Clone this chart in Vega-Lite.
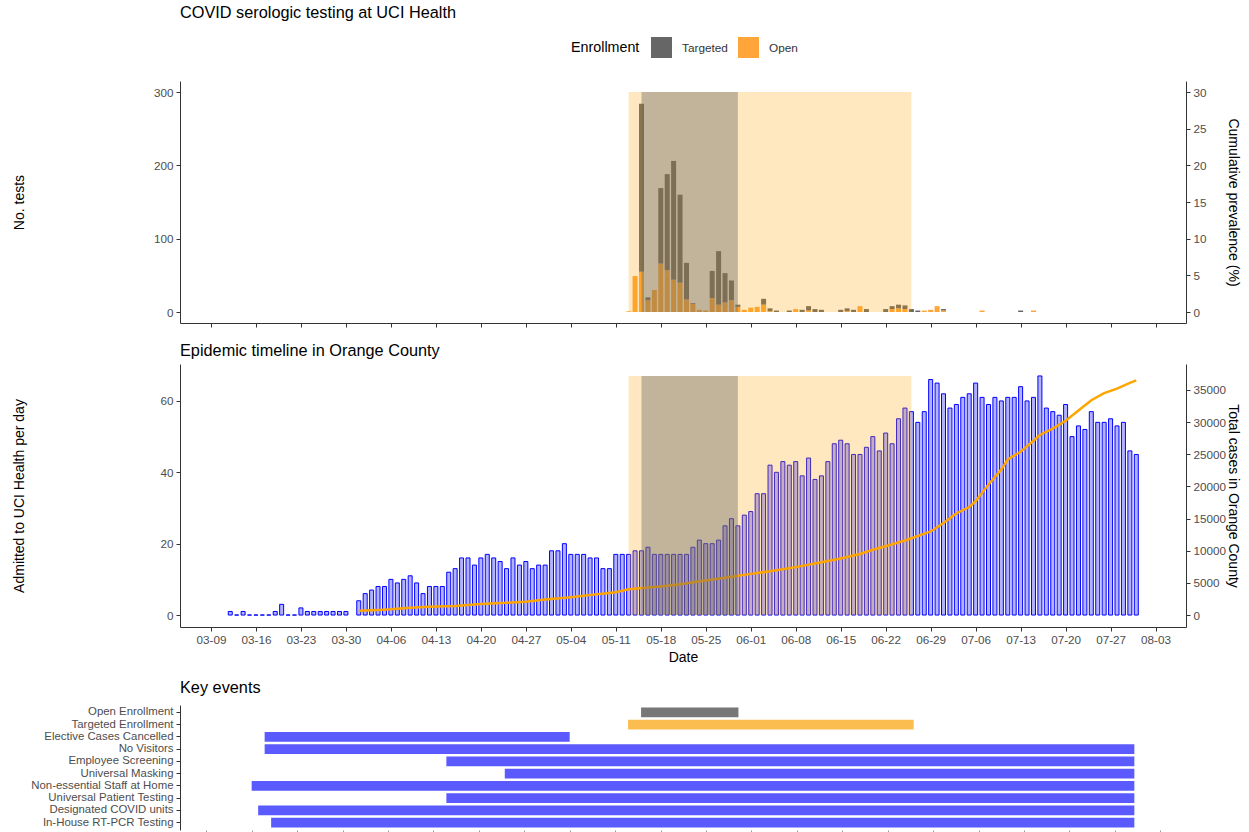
{
  "$schema": "https://vega.github.io/schema/vega-lite/v6.json",
  "background": "#FFFFFF",
  "padding": {"left": 12, "top": 4, "right": 5, "bottom": 0},
  "spacing": 14,
  "datasets": {
    "tests": [
      {"date": "2020/05/13", "enrollment": "Open", "n": 1},
      {"date": "2020/05/14", "enrollment": "Open", "n": 49},
      {"date": "2020/05/15", "enrollment": "Open", "n": 55},
      {"date": "2020/05/15", "enrollment": "Targeted", "n": 229},
      {"date": "2020/05/16", "enrollment": "Open", "n": 16},
      {"date": "2020/05/16", "enrollment": "Targeted", "n": 4},
      {"date": "2020/05/17", "enrollment": "Open", "n": 30},
      {"date": "2020/05/18", "enrollment": "Open", "n": 66},
      {"date": "2020/05/18", "enrollment": "Targeted", "n": 103},
      {"date": "2020/05/19", "enrollment": "Open", "n": 57},
      {"date": "2020/05/19", "enrollment": "Targeted", "n": 131},
      {"date": "2020/05/20", "enrollment": "Open", "n": 44},
      {"date": "2020/05/20", "enrollment": "Targeted", "n": 162},
      {"date": "2020/05/21", "enrollment": "Open", "n": 40},
      {"date": "2020/05/21", "enrollment": "Targeted", "n": 120},
      {"date": "2020/05/22", "enrollment": "Open", "n": 17},
      {"date": "2020/05/22", "enrollment": "Targeted", "n": 50},
      {"date": "2020/05/23", "enrollment": "Open", "n": 11},
      {"date": "2020/05/23", "enrollment": "Targeted", "n": 1},
      {"date": "2020/05/24", "enrollment": "Open", "n": 3},
      {"date": "2020/05/25", "enrollment": "Open", "n": 2},
      {"date": "2020/05/26", "enrollment": "Open", "n": 19},
      {"date": "2020/05/26", "enrollment": "Targeted", "n": 37},
      {"date": "2020/05/27", "enrollment": "Open", "n": 10},
      {"date": "2020/05/27", "enrollment": "Targeted", "n": 73},
      {"date": "2020/05/28", "enrollment": "Open", "n": 13},
      {"date": "2020/05/28", "enrollment": "Targeted", "n": 40},
      {"date": "2020/05/29", "enrollment": "Open", "n": 16},
      {"date": "2020/05/29", "enrollment": "Targeted", "n": 27},
      {"date": "2020/05/30", "enrollment": "Open", "n": 7},
      {"date": "2020/05/30", "enrollment": "Targeted", "n": 3},
      {"date": "2020/05/31", "enrollment": "Open", "n": 3},
      {"date": "2020/06/01", "enrollment": "Open", "n": 6},
      {"date": "2020/06/02", "enrollment": "Open", "n": 7},
      {"date": "2020/06/03", "enrollment": "Open", "n": 10},
      {"date": "2020/06/03", "enrollment": "Targeted", "n": 8},
      {"date": "2020/06/04", "enrollment": "Open", "n": 1},
      {"date": "2020/06/04", "enrollment": "Targeted", "n": 4},
      {"date": "2020/06/05", "enrollment": "Targeted", "n": 2},
      {"date": "2020/06/07", "enrollment": "Targeted", "n": 2},
      {"date": "2020/06/08", "enrollment": "Open", "n": 4},
      {"date": "2020/06/09", "enrollment": "Targeted", "n": 3},
      {"date": "2020/06/10", "enrollment": "Open", "n": 2},
      {"date": "2020/06/10", "enrollment": "Targeted", "n": 6},
      {"date": "2020/06/11", "enrollment": "Targeted", "n": 4},
      {"date": "2020/06/12", "enrollment": "Targeted", "n": 3},
      {"date": "2020/06/15", "enrollment": "Targeted", "n": 3},
      {"date": "2020/06/16", "enrollment": "Open", "n": 1},
      {"date": "2020/06/16", "enrollment": "Targeted", "n": 4},
      {"date": "2020/06/17", "enrollment": "Targeted", "n": 3},
      {"date": "2020/06/18", "enrollment": "Open", "n": 8},
      {"date": "2020/06/19", "enrollment": "Targeted", "n": 4},
      {"date": "2020/06/22", "enrollment": "Targeted", "n": 4},
      {"date": "2020/06/23", "enrollment": "Open", "n": 4},
      {"date": "2020/06/23", "enrollment": "Targeted", "n": 4},
      {"date": "2020/06/24", "enrollment": "Open", "n": 5},
      {"date": "2020/06/24", "enrollment": "Targeted", "n": 5},
      {"date": "2020/06/25", "enrollment": "Open", "n": 4},
      {"date": "2020/06/25", "enrollment": "Targeted", "n": 5},
      {"date": "2020/06/26", "enrollment": "Targeted", "n": 4},
      {"date": "2020/06/27", "enrollment": "Targeted", "n": 2},
      {"date": "2020/06/28", "enrollment": "Open", "n": 2},
      {"date": "2020/06/29", "enrollment": "Open", "n": 3},
      {"date": "2020/06/30", "enrollment": "Open", "n": 8},
      {"date": "2020/07/01", "enrollment": "Open", "n": 2},
      {"date": "2020/07/01", "enrollment": "Targeted", "n": 2},
      {"date": "2020/07/07", "enrollment": "Open", "n": 2},
      {"date": "2020/07/13", "enrollment": "Targeted", "n": 2},
      {"date": "2020/07/15", "enrollment": "Open", "n": 2}
    ],
    "admits": [
      {"date": "2020/03/12", "n": 1}, {"date": "2020/03/13", "n": 0},
      {"date": "2020/03/14", "n": 1}, {"date": "2020/03/15", "n": 0},
      {"date": "2020/03/16", "n": 0}, {"date": "2020/03/17", "n": 0},
      {"date": "2020/03/18", "n": 0}, {"date": "2020/03/19", "n": 1},
      {"date": "2020/03/20", "n": 3}, {"date": "2020/03/21", "n": 0},
      {"date": "2020/03/22", "n": 0}, {"date": "2020/03/23", "n": 2},
      {"date": "2020/03/24", "n": 1}, {"date": "2020/03/25", "n": 1},
      {"date": "2020/03/26", "n": 1}, {"date": "2020/03/27", "n": 1},
      {"date": "2020/03/28", "n": 1}, {"date": "2020/03/29", "n": 1},
      {"date": "2020/03/30", "n": 1},
      {"date": "2020/04/01", "n": 4}, {"date": "2020/04/02", "n": 6},
      {"date": "2020/04/03", "n": 7}, {"date": "2020/04/04", "n": 8},
      {"date": "2020/04/05", "n": 8}, {"date": "2020/04/06", "n": 10},
      {"date": "2020/04/07", "n": 9}, {"date": "2020/04/08", "n": 10},
      {"date": "2020/04/09", "n": 11}, {"date": "2020/04/10", "n": 9},
      {"date": "2020/04/11", "n": 6}, {"date": "2020/04/12", "n": 8},
      {"date": "2020/04/13", "n": 8}, {"date": "2020/04/14", "n": 8},
      {"date": "2020/04/15", "n": 12}, {"date": "2020/04/16", "n": 13},
      {"date": "2020/04/17", "n": 16}, {"date": "2020/04/18", "n": 16},
      {"date": "2020/04/19", "n": 14}, {"date": "2020/04/20", "n": 16},
      {"date": "2020/04/21", "n": 17}, {"date": "2020/04/22", "n": 16},
      {"date": "2020/04/23", "n": 15}, {"date": "2020/04/24", "n": 13},
      {"date": "2020/04/25", "n": 16}, {"date": "2020/04/26", "n": 14},
      {"date": "2020/04/27", "n": 15}, {"date": "2020/04/28", "n": 13},
      {"date": "2020/04/29", "n": 14}, {"date": "2020/04/30", "n": 14},
      {"date": "2020/05/01", "n": 18}, {"date": "2020/05/02", "n": 18},
      {"date": "2020/05/03", "n": 20}, {"date": "2020/05/04", "n": 17},
      {"date": "2020/05/05", "n": 17}, {"date": "2020/05/06", "n": 17},
      {"date": "2020/05/07", "n": 16}, {"date": "2020/05/08", "n": 16},
      {"date": "2020/05/09", "n": 13}, {"date": "2020/05/10", "n": 13},
      {"date": "2020/05/11", "n": 17}, {"date": "2020/05/12", "n": 17},
      {"date": "2020/05/13", "n": 17}, {"date": "2020/05/14", "n": 18},
      {"date": "2020/05/15", "n": 18}, {"date": "2020/05/16", "n": 19},
      {"date": "2020/05/17", "n": 17}, {"date": "2020/05/18", "n": 17},
      {"date": "2020/05/19", "n": 17}, {"date": "2020/05/20", "n": 17},
      {"date": "2020/05/21", "n": 17}, {"date": "2020/05/22", "n": 17},
      {"date": "2020/05/23", "n": 19}, {"date": "2020/05/24", "n": 21},
      {"date": "2020/05/25", "n": 20}, {"date": "2020/05/26", "n": 20},
      {"date": "2020/05/27", "n": 21}, {"date": "2020/05/28", "n": 25},
      {"date": "2020/05/29", "n": 27}, {"date": "2020/05/30", "n": 25},
      {"date": "2020/05/31", "n": 28}, {"date": "2020/06/01", "n": 29},
      {"date": "2020/06/02", "n": 34}, {"date": "2020/06/03", "n": 34},
      {"date": "2020/06/04", "n": 42}, {"date": "2020/06/05", "n": 40},
      {"date": "2020/06/06", "n": 43}, {"date": "2020/06/07", "n": 42},
      {"date": "2020/06/08", "n": 43}, {"date": "2020/06/09", "n": 39},
      {"date": "2020/06/10", "n": 44}, {"date": "2020/06/11", "n": 38},
      {"date": "2020/06/12", "n": 39}, {"date": "2020/06/13", "n": 43},
      {"date": "2020/06/14", "n": 48}, {"date": "2020/06/15", "n": 49},
      {"date": "2020/06/16", "n": 48}, {"date": "2020/06/17", "n": 45},
      {"date": "2020/06/18", "n": 45}, {"date": "2020/06/19", "n": 47},
      {"date": "2020/06/20", "n": 50}, {"date": "2020/06/21", "n": 46},
      {"date": "2020/06/22", "n": 51}, {"date": "2020/06/23", "n": 48},
      {"date": "2020/06/24", "n": 55}, {"date": "2020/06/25", "n": 58},
      {"date": "2020/06/26", "n": 57}, {"date": "2020/06/27", "n": 54},
      {"date": "2020/06/28", "n": 57}, {"date": "2020/06/29", "n": 66},
      {"date": "2020/06/30", "n": 65}, {"date": "2020/07/01", "n": 62},
      {"date": "2020/07/02", "n": 58}, {"date": "2020/07/03", "n": 59},
      {"date": "2020/07/04", "n": 61}, {"date": "2020/07/05", "n": 62},
      {"date": "2020/07/06", "n": 65}, {"date": "2020/07/07", "n": 61},
      {"date": "2020/07/08", "n": 59}, {"date": "2020/07/09", "n": 61},
      {"date": "2020/07/10", "n": 60}, {"date": "2020/07/11", "n": 61},
      {"date": "2020/07/12", "n": 61}, {"date": "2020/07/13", "n": 64},
      {"date": "2020/07/14", "n": 60}, {"date": "2020/07/15", "n": 61},
      {"date": "2020/07/16", "n": 67}, {"date": "2020/07/17", "n": 58},
      {"date": "2020/07/18", "n": 57}, {"date": "2020/07/19", "n": 56},
      {"date": "2020/07/20", "n": 59}, {"date": "2020/07/21", "n": 50},
      {"date": "2020/07/22", "n": 53}, {"date": "2020/07/23", "n": 52},
      {"date": "2020/07/24", "n": 57}, {"date": "2020/07/25", "n": 54},
      {"date": "2020/07/26", "n": 54}, {"date": "2020/07/27", "n": 55},
      {"date": "2020/07/28", "n": 53}, {"date": "2020/07/29", "n": 54},
      {"date": "2020/07/30", "n": 46}, {"date": "2020/07/31", "n": 45}
    ],
    "cases": [
      {"date": "2020/04/01", "total": 650}, {"date": "2020/04/04", "total": 800},
      {"date": "2020/04/06", "total": 890}, {"date": "2020/04/09", "total": 1140},
      {"date": "2020/04/12", "total": 1270}, {"date": "2020/04/16", "total": 1400},
      {"date": "2020/04/20", "total": 1700}, {"date": "2020/04/24", "total": 1900},
      {"date": "2020/04/27", "total": 2080}, {"date": "2020/04/30", "total": 2400},
      {"date": "2020/05/04", "total": 2770}, {"date": "2020/05/07", "total": 3100},
      {"date": "2020/05/11", "total": 3550}, {"date": "2020/05/13", "total": 4000},
      {"date": "2020/05/16", "total": 4300}, {"date": "2020/05/18", "total": 4430},
      {"date": "2020/05/21", "total": 4800}, {"date": "2020/05/25", "total": 5360},
      {"date": "2020/05/28", "total": 5800}, {"date": "2020/06/01", "total": 6400},
      {"date": "2020/06/04", "total": 6800}, {"date": "2020/06/08", "total": 7450},
      {"date": "2020/06/11", "total": 8000}, {"date": "2020/06/15", "total": 8800},
      {"date": "2020/06/18", "total": 9500}, {"date": "2020/06/20", "total": 10150},
      {"date": "2020/06/22", "total": 10700}, {"date": "2020/06/25", "total": 11600},
      {"date": "2020/06/27", "total": 12300}, {"date": "2020/06/29", "total": 13000},
      {"date": "2020/07/01", "total": 14300}, {"date": "2020/07/03", "total": 15800},
      {"date": "2020/07/05", "total": 16800}, {"date": "2020/07/06", "total": 17700},
      {"date": "2020/07/08", "total": 20300}, {"date": "2020/07/10", "total": 22650},
      {"date": "2020/07/11", "total": 24200}, {"date": "2020/07/13", "total": 25400},
      {"date": "2020/07/15", "total": 27100}, {"date": "2020/07/16", "total": 28000},
      {"date": "2020/07/18", "total": 29000}, {"date": "2020/07/20", "total": 30200},
      {"date": "2020/07/22", "total": 31800}, {"date": "2020/07/24", "total": 33400},
      {"date": "2020/07/26", "total": 34500}, {"date": "2020/07/28", "total": 35200},
      {"date": "2020/07/30", "total": 36100}, {"date": "2020/07/31", "total": 36500}
    ],
    "events": [
      {"event": "Targeted Enrollment", "kind": "targeted", "start": "2020/05/13", "end": "2020/06/26"},
      {"event": "Open Enrollment", "kind": "open", "start": "2020/05/15", "end": "2020/05/30"},
      {"event": "Elective Cases Cancelled", "kind": "policy", "start": "2020/03/18", "end": "2020/05/04"},
      {"event": "No Visitors", "kind": "policy", "start": "2020/03/18", "end": "2020/07/30"},
      {"event": "Employee Screening", "kind": "policy", "start": "2020/04/15", "end": "2020/07/30"},
      {"event": "Universal Masking", "kind": "policy", "start": "2020/04/24", "end": "2020/07/30"},
      {"event": "Non-essential Staff at Home", "kind": "policy", "start": "2020/03/16", "end": "2020/07/30"},
      {"event": "Universal Patient Testing", "kind": "policy", "start": "2020/04/15", "end": "2020/07/30"},
      {"event": "Designated COVID units", "kind": "policy", "start": "2020/03/17", "end": "2020/07/30"},
      {"event": "In-House RT-PCR Testing", "kind": "policy", "start": "2020/03/19", "end": "2020/07/30"}
    ]
  },
  "vconcat": [
    {
      "title": {"text": "COVID serologic testing at UCI Health", "offset": 16},
      "width": 1006,
      "height": 242,
      "layer": [
        {
          "data": {"name": "tests"},
          "mark": {"type": "bar", "size": 5},
          "encoding": {
            "x": {
              "field": "date", "type": "temporal",
              "scale": {"domain": [{"year": 2020, "month": 3, "date": 4, "hours": 23}, {"year": 2020, "month": 8, "date": 6, "hours": 23}]},
              "axis": {"title": null, "labels": false, "values": [
                {"year": 2020, "month": 3, "date": 9}, {"year": 2020, "month": 3, "date": 16}, {"year": 2020, "month": 3, "date": 23}, {"year": 2020, "month": 3, "date": 30},
                {"year": 2020, "month": 4, "date": 6}, {"year": 2020, "month": 4, "date": 13}, {"year": 2020, "month": 4, "date": 20}, {"year": 2020, "month": 4, "date": 27},
                {"year": 2020, "month": 5, "date": 4}, {"year": 2020, "month": 5, "date": 11}, {"year": 2020, "month": 5, "date": 18}, {"year": 2020, "month": 5, "date": 25},
                {"year": 2020, "month": 6, "date": 1}, {"year": 2020, "month": 6, "date": 8}, {"year": 2020, "month": 6, "date": 15}, {"year": 2020, "month": 6, "date": 22},
                {"year": 2020, "month": 6, "date": 29}, {"year": 2020, "month": 7, "date": 6}, {"year": 2020, "month": 7, "date": 13}, {"year": 2020, "month": 7, "date": 20},
                {"year": 2020, "month": 7, "date": 27}, {"year": 2020, "month": 8, "date": 3}]}
            },
            "y": {
              "field": "n", "type": "quantitative", "stack": "zero",
              "scale": {"domain": [-15, 315], "nice": false, "zero": false},
              "axis": {"orient": "left", "title": "No. tests", "values": [0, 100, 200, 300], "titleX": -161, "titleBaseline": "middle"}
            },
            "color": {
              "field": "enrollment", "type": "nominal",
              "scale": {"domain": ["Targeted", "Open"], "range": ["#666666", "#FFA53A"]},
              "legend": {
                "title": "Enrollment", "orient": "none", "direction": "horizontal",
                "legendX": 391, "legendY": -44, "titleOrient": "left",
                "titleBaseline": "middle", "titlePadding": 11,
                "symbolType": "square", "symbolSize": 441, "symbolStrokeWidth": 0,
                "symbolOpacity": 1, "labelOffset": 10, "columnPadding": 10
              }
            },
            "order": {"field": "enrollment", "sort": "ascending"}
          }
        },
        {
          "data": {"name": "events"},
          "transform": [{"filter": "datum.kind != 'policy'"}],
          "mark": {"type": "rect"},
          "encoding": {
            "x": {"field": "start", "type": "temporal"},
            "x2": {"field": "end"},
            "y": {
              "datum": 0, "type": "quantitative",
              "scale": {"domain": [-1.5, 31.5], "nice": false, "zero": false},
              "axis": {"orient": "right", "title": "Cumulative prevalence (%)", "values": [0, 5, 10, 15, 20, 25, 30], "titleX": 46, "titleBaseline": "middle"}
            },
            "y2": {"datum": 30},
            "fill": {"field": "kind", "type": "nominal", "scale": {"domain": ["targeted", "open"], "range": ["#FFA500", "#666666"]}, "legend": null},
            "opacity": {"field": "kind", "type": "nominal", "scale": {"domain": ["targeted", "open"], "range": [0.25, 0.4]}, "legend": null}
          }
        }
      ],
      "resolve": {"scale": {"y": "independent"}}
    },
    {
      "title": {"text": "Epidemic timeline in Orange County", "offset": 5},
      "width": 1006,
      "height": 263,
      "layer": [
        {
          "data": {"name": "admits"},
          "mark": {"type": "bar", "size": 4, "fill": "#0000FF", "fillOpacity": 0.3, "stroke": "#0000FF", "strokeWidth": 1},
          "encoding": {
            "x": {
              "field": "date", "type": "temporal",
              "scale": {"domain": [{"year": 2020, "month": 3, "date": 4, "hours": 23}, {"year": 2020, "month": 8, "date": 6, "hours": 23}]},
              "axis": {"title": "Date", "titlePadding": 5, "format": "%m-%d", "labelAngle": 0, "values": [
                {"year": 2020, "month": 3, "date": 9}, {"year": 2020, "month": 3, "date": 16}, {"year": 2020, "month": 3, "date": 23}, {"year": 2020, "month": 3, "date": 30},
                {"year": 2020, "month": 4, "date": 6}, {"year": 2020, "month": 4, "date": 13}, {"year": 2020, "month": 4, "date": 20}, {"year": 2020, "month": 4, "date": 27},
                {"year": 2020, "month": 5, "date": 4}, {"year": 2020, "month": 5, "date": 11}, {"year": 2020, "month": 5, "date": 18}, {"year": 2020, "month": 5, "date": 25},
                {"year": 2020, "month": 6, "date": 1}, {"year": 2020, "month": 6, "date": 8}, {"year": 2020, "month": 6, "date": 15}, {"year": 2020, "month": 6, "date": 22},
                {"year": 2020, "month": 6, "date": 29}, {"year": 2020, "month": 7, "date": 6}, {"year": 2020, "month": 7, "date": 13}, {"year": 2020, "month": 7, "date": 20},
                {"year": 2020, "month": 7, "date": 27}, {"year": 2020, "month": 8, "date": 3}]}
            },
            "y": {
              "field": "n", "type": "quantitative",
              "scale": {"domain": [-3.35, 70.35], "nice": false, "zero": false},
              "axis": {"orient": "left", "title": "Admitted to UCI Health per day", "values": [0, 20, 40, 60], "titleX": -161, "titleBaseline": "middle"}
            }
          }
        },
        {
          "data": {"name": "cases"},
          "mark": {"type": "line", "color": "#FFA500", "strokeWidth": 2.5},
          "encoding": {
            "x": {"field": "date", "type": "temporal"},
            "y": {
              "field": "total", "type": "quantitative",
              "scale": {"domain": [-1860, 39040], "nice": false, "zero": false},
              "axis": {"orient": "right", "title": "Total cases in Orange County", "format": "d", "values": [0, 5000, 10000, 15000, 20000, 25000, 30000, 35000], "titleX": 46, "titleBaseline": "middle"}
            }
          }
        },
        {
          "data": {"name": "events"},
          "transform": [{"filter": "datum.kind != 'policy'"}],
          "mark": {"type": "rect"},
          "encoding": {
            "x": {"field": "start", "type": "temporal"},
            "x2": {"field": "end"},
            "y": {"datum": 0, "type": "quantitative", "scale": {"domain": [-3.35, 70.35], "nice": false, "zero": false}, "axis": null},
            "y2": {"datum": 67},
            "fill": {"field": "kind", "type": "nominal", "scale": {"domain": ["targeted", "open"], "range": ["#FFA500", "#666666"]}, "legend": null},
            "opacity": {"field": "kind", "type": "nominal", "scale": {"domain": ["targeted", "open"], "range": [0.25, 0.4]}, "legend": null}
          }
        }
      ],
      "resolve": {"scale": {"y": "independent"}}
    },
    {
      "title": {"text": "Key events", "offset": 9},
      "width": 1006,
      "height": 125,
      "data": {"name": "events"},
      "mark": {"type": "bar"},
      "encoding": {
        "y": {
          "field": "event", "type": "nominal",
          "sort": ["Open Enrollment", "Targeted Enrollment", "Elective Cases Cancelled", "No Visitors", "Employee Screening", "Universal Masking", "Non-essential Staff at Home", "Universal Patient Testing", "Designated COVID units", "In-House RT-PCR Testing"],
          "scale": {"paddingInner": 0.2, "paddingOuter": 0.2},
          "axis": {"title": null, "labelFontSize": 11.4}
        },
        "x": {
          "field": "start", "type": "temporal",
          "scale": {"domain": [{"year": 2020, "month": 3, "date": 4, "hours": 23}, {"year": 2020, "month": 8, "date": 6, "hours": 23}]},
          "axis": {"title": null, "labels": false, "domain": false, "tickColor": "#999999", "values": [
            {"year": 2020, "month": 3, "date": 9}, {"year": 2020, "month": 3, "date": 16}, {"year": 2020, "month": 3, "date": 23}, {"year": 2020, "month": 3, "date": 30},
            {"year": 2020, "month": 4, "date": 6}, {"year": 2020, "month": 4, "date": 13}, {"year": 2020, "month": 4, "date": 20}, {"year": 2020, "month": 4, "date": 27},
            {"year": 2020, "month": 5, "date": 4}, {"year": 2020, "month": 5, "date": 11}, {"year": 2020, "month": 5, "date": 18}, {"year": 2020, "month": 5, "date": 25},
            {"year": 2020, "month": 6, "date": 1}, {"year": 2020, "month": 6, "date": 8}, {"year": 2020, "month": 6, "date": 15}, {"year": 2020, "month": 6, "date": 22},
            {"year": 2020, "month": 6, "date": 29}, {"year": 2020, "month": 7, "date": 6}, {"year": 2020, "month": 7, "date": 13}, {"year": 2020, "month": 7, "date": 20},
            {"year": 2020, "month": 7, "date": 27}, {"year": 2020, "month": 8, "date": 3}]}
        },
        "x2": {"field": "end"},
        "color": {
          "field": "kind", "type": "nominal",
          "scale": {"domain": ["open", "targeted", "policy"], "range": ["#777777", "#FBBD4F", "#5A5AFF"]},
          "legend": null
        }
      }
    }
  ],
  "resolve": {"scale": {"color": "independent", "fill": "independent", "opacity": "independent", "x": "independent"}},
  "config": {
    "font": "Liberation Sans",
    "view": {"stroke": null},
    "title": {"fontSize": 16.3, "fontWeight": "normal", "anchor": "start", "frame": "group", "color": "#000000"},
    "axis": {
      "grid": false, "domainColor": "#333333", "tickColor": "#333333", "tickSize": 4,
      "labelColor": "#4D4D4D", "labelFontSize": 11.7, "titleFontSize": 14,
      "titleFontWeight": "normal", "titleColor": "#000000", "labelPadding": 3
    },
    "legend": {"titleFontSize": 14.3, "titleFontWeight": "normal", "titleColor": "#000000", "labelFontSize": 11.8, "labelColor": "#333333"}
  }
}
